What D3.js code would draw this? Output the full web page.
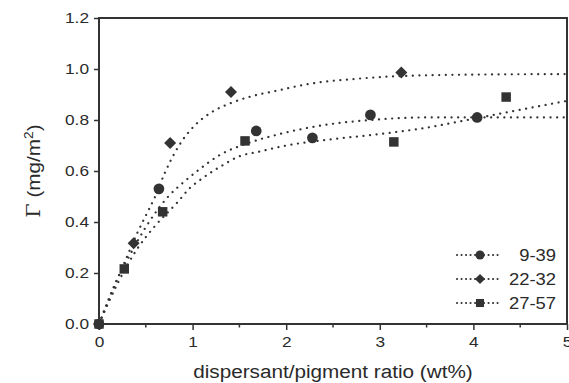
<!DOCTYPE html>
<html>
<head>
<meta charset="utf-8">
<script src="https://cdn.jsdelivr.net/npm/d3@7/dist/d3.min.js"></script>
<style>
  body { margin: 0; background: #fff; }
  svg text { font-family: "Liberation Sans", Arial, sans-serif; fill: #2a2a2a; }
</style>
</head>
<body>
<div id="chart"></div>
<script>
// measured points
const seriesNames = ['9-39', '22-32', '27-57'];
const symbols = ['circle', 'diamond', 'square'];

const x939 = [0, 0.64, 1.68, 2.28, 2.9, 4.04];
const y939 = [0, 0.53, 0.757, 0.73, 0.82, 0.81];
const x2232 = [0, 0.37, 0.76, 1.41, 3.23];
const y2232 = [0, 0.317, 0.71, 0.91, 0.986];
const x2757 = [0, 0.27, 0.68, 1.56, 3.15, 4.35];
const y2757 = [0, 0.216, 0.44, 0.718, 0.714, 0.89];

// dotted fit curves
const fitX939 = [0, 0.2, 0.3, 0.5, 0.74, 0.9, 1.05, 1.3, 1.56, 1.93, 2.4, 2.9, 3.5, 4.2, 5];
const fitY939 = [0, 0.18, 0.25, 0.38, 0.50, 0.555, 0.60, 0.665, 0.705, 0.745, 0.78, 0.80, 0.81, 0.81, 0.81];
const fitX2232 = [0, 0.1, 0.2, 0.3, 0.4, 0.5, 0.6, 0.7, 0.8, 0.9, 1.0, 1.2, 1.4, 1.6, 1.9, 2.3, 2.7, 3.2, 4, 5];
const fitY2232 = [0, 0.09, 0.18, 0.265, 0.35, 0.425, 0.50, 0.59, 0.665, 0.725, 0.77, 0.83, 0.865, 0.89, 0.915, 0.945, 0.96, 0.972, 0.978, 0.98];
const fitX2757 = [0, 0.2, 0.4, 0.6, 0.84, 0.97, 1.08, 1.29, 1.51, 1.7, 2.0, 2.5, 3.0, 3.5, 4.0, 4.5, 5];
const fitY2757 = [0, 0.16, 0.29, 0.385, 0.478, 0.533, 0.565, 0.616, 0.659, 0.675, 0.70, 0.725, 0.745, 0.77, 0.805, 0.84, 0.875];

const xTicks = [0, 1, 2, 3, 4, 5];
const xMinor = [0.5, 1.5, 2.5, 3.5, 4.5];
const yTicks = [0, 0.2, 0.4, 0.6, 0.8, 1.0, 1.2];

const W = 569, H = 383;
const margin = {left: 99, right: 2, top: 18, bottom: 59};
const ink = '#333';
const stretch = 1.15;   // the original lettering is a bit wider than Arial

const svg = d3.select('#chart').append('svg')
  .attr('width', W)
  .attr('height', H);

const xScale = d3.scaleLinear().domain([0, 5]).range([margin.left, W - margin.right]);
const yScale = d3.scaleLinear().domain([0, 1.2]).range([H - margin.bottom, margin.top]);

const pts = (xs, ys) => xs.map((v, i) => [v, ys[i]]);
const data = [
  {name: seriesNames[0], sym: symbols[0], pts: pts(x939, y939), fit: pts(fitX939, fitY939)},
  {name: seriesNames[1], sym: symbols[1], pts: pts(x2232, y2232), fit: pts(fitX2232, fitY2232)},
  {name: seriesNames[2], sym: symbols[2], pts: pts(x2757, y2757), fit: pts(fitX2757, fitY2757)},
];

const line = d3.line()
  .x(d => xScale(d[0]))
  .y(d => yScale(d[1]))
  .curve(d3.curveMonotoneX);

function widen(sel, k) {
  sel.each(function() {
    const len = this.getComputedTextLength();
    d3.select(this).attr('textLength', len * k).attr('lengthAdjust', 'spacingAndGlyphs');
  });
}

const g = svg.append('g');

g.selectAll('.fit')
  .data(data)
  .enter().append('path')
    .attr('class', 'fit')
    .attr('d', d => line(d.fit))
    .attr('fill', 'none')
    .attr('stroke', ink)
    .attr('stroke-width', 2.2)
    .attr('stroke-linecap', 'round')
    .attr('stroke-dasharray', '0.1,6.5');

const symType = {circle: d3.symbolCircle, diamond: d3.symbolSquare, square: d3.symbolSquare};
const symSize = {circle: 90, diamond: 72, square: 90};
const symRot = {circle: 0, diamond: 45, square: 0};

function drawSymbol(sel, sym, k) {
  return sel.append('path')
    .attr('d', d3.symbol().type(symType[sym]).size(symSize[sym] * k * k))
    .attr('transform', `rotate(${symRot[sym]})`)
    .attr('fill', ink);
}

data.forEach(s => {
  s.pts.forEach(p => {
    const gp = g.append('g').attr('transform', `translate(${xScale(p[0])},${yScale(p[1])})`);
    drawSymbol(gp, s.sym, 1);
  });
});

// axes
const xAxis = d3.axisBottom(xScale).tickValues(xTicks).tickSize(6).tickPadding(6).tickFormat(d3.format('d'));
const yAxis = d3.axisLeft(yScale).tickValues(yTicks).tickSize(5).tickPadding(5).tickFormat(d3.format('.1f'));

const gx = svg.append('g')
  .attr('transform', `translate(0,${H - margin.bottom})`)
  .call(xAxis);
gx.append('g').selectAll('line')
  .data(xMinor)
  .enter().append('line')
    .attr('x1', d => xScale(d)).attr('x2', d => xScale(d))
    .attr('y1', 0).attr('y2', 3.5);

const gy = svg.append('g')
  .attr('transform', `translate(${margin.left},0)`)
  .call(yAxis);

[gx, gy].forEach(a => {
  a.select('.domain').remove();
  a.selectAll('line').attr('stroke', ink).attr('stroke-width', 1.5);
  a.selectAll('text').style('font-size', '15px').attr('fill', '#2a2a2a').call(widen, stretch);
});

// frame
svg.append('rect')
  .attr('x', margin.left).attr('y', margin.top)
  .attr('width', W - margin.right - margin.left)
  .attr('height', H - margin.bottom - margin.top)
  .attr('fill', 'none')
  .attr('stroke', ink)
  .attr('stroke-width', 2);

// titles
svg.append('text')
  .attr('x', 333)
  .attr('y', 378)
  .attr('text-anchor', 'middle')
  .style('font-size', '18px')
  .text('dispersant/pigment ratio (wt%)')
  .call(widen, stretch);

const yt = svg.append('text')
  .attr('transform', `translate(40,171) rotate(-90)`)
  .attr('text-anchor', 'middle')
  .style('font-size', '18px');
yt.append('tspan').style('font-family', '"DejaVu Serif", serif').text('Γ');
yt.append('tspan').text(' (mg/m');
yt.append('tspan').attr('dy', -7).style('font-size', '12px').text('2');
yt.append('tspan').attr('dy', 7).text(')');
yt.call(widen, stretch);

// legend
const legY = [255, 279, 303];
const leg = svg.append('g').selectAll('.leg')
  .data(data)
  .enter().append('g')
    .attr('class', 'leg')
    .attr('transform', (d, i) => `translate(0,${legY[i]})`);

leg.append('line')
  .attr('x1', 457).attr('x2', 501)
  .attr('y1', 0).attr('y2', 0)
  .attr('stroke', ink)
  .attr('stroke-width', 2)
  .attr('stroke-linecap', 'round')
  .attr('stroke-dasharray', '0.1,4.4');

leg.each(function(d) {
  const gp = d3.select(this).append('g').attr('transform', 'translate(480,0)');
  drawSymbol(gp, d.sym, 0.85);
});

leg.append('text')
  .attr('x', 556)
  .attr('y', 5.5)
  .attr('text-anchor', 'end')
  .style('font-size', '16px')
  .text(d => d.name)
  .call(widen, stretch);
</script>
</body>
</html>
